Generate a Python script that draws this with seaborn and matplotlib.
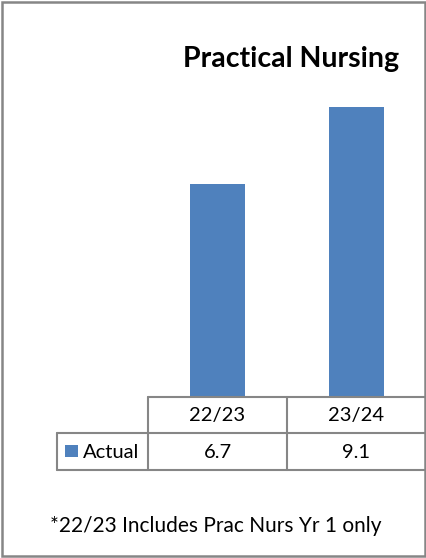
import matplotlib
matplotlib.use("Agg")
import matplotlib.pyplot as plt
import seaborn as sns
import pandas as pd
from matplotlib.lines import Line2D
from matplotlib.patches import Rectangle

categories = ["22/23", "23/24"]
values = [6.7, 9.1]
series_name = "Actual"
title = "Practical Nursing"
footnote = "*22/23 Includes Prac Nurs Yr 1 only"

W, H = 427, 558
BLUE = "#4F81BD"
GRID = "#868686"

sns.set_theme(style="white")
plt.rcParams["font.family"] = ["Lato", "DejaVu Sans"]

fig = plt.figure(figsize=(W / 100, H / 100), dpi=100)

def fx(x):
    return x / W

def fy(y):
    return 1 - y / H

# plot area
ax = fig.add_axes([fx(148), fy(397), fx(426) - fx(148), fy(78.5) - fy(397)])
df = pd.DataFrame({"cat": categories, "val": values})
sns.barplot(data=df, x="cat", y="val", color=BLUE, width=0.4, ax=ax,
            saturation=1, edgecolor="none")
ax.set_ylim(0, 10)
ax.set_xlim(-0.5, len(categories) - 0.5)
for s in ["top", "left", "right", "bottom"]:
    ax.spines[s].set_visible(False)
ax.set_xticks([])
ax.set_yticks([])
ax.set_xlabel("")
ax.set_ylabel("")
ax.patch.set_alpha(0)

# data table lines (figure pixel coords)
def hline(x0, x1, y):
    fig.add_artist(Line2D([fx(x0), fx(x1)], [fy(y), fy(y)], color=GRID, lw=1.5,
                          transform=fig.transFigure))

def vline(x, y0, y1):
    fig.add_artist(Line2D([fx(x), fx(x)], [fy(y0), fy(y1)], color=GRID, lw=1.5,
                          transform=fig.transFigure))

col_edges = [148, 287, 426]
hline(148, 426, 397)
hline(57, 426, 433)
hline(57, 426, 470)
for x in col_edges:
    vline(x, 397, 470)
vline(57, 433, 470)

# table text
for i, (c, v) in enumerate(zip(categories, values)):
    cx = (col_edges[i] + col_edges[i + 1]) / 2
    fig.text(fx(cx), fy(416), c, ha="center", va="center", fontsize=14.5, color="black")
    fig.text(fx(cx), fy(452), f"{v:.1f}", ha="center", va="center", fontsize=14.5, color="black")

# legend key in row header
fig.add_artist(Rectangle((fx(65), fy(457)), fx(78) - fx(65), fy(445) - fy(457),
                         facecolor=BLUE, edgecolor="none", transform=fig.transFigure))
fig.text(fx(83), fy(452), series_name, ha="left", va="center", fontsize=14.5, color="black")

# title
fig.text(fx(291), fy(59), title, ha="center", va="center", fontsize=20.5,
         fontweight="bold", color="black")

# footnote
fig.text(fx(50), fy(526), footnote, ha="left", va="center", fontsize=15, color="black")

# outer border
fig.add_artist(Rectangle((fx(2), fy(556)), fx(425) - fx(2), fy(2) - fy(556),
                         facecolor="none", edgecolor=GRID, lw=1.8,
                         transform=fig.transFigure))

fig.savefig("out.png", dpi=100)
